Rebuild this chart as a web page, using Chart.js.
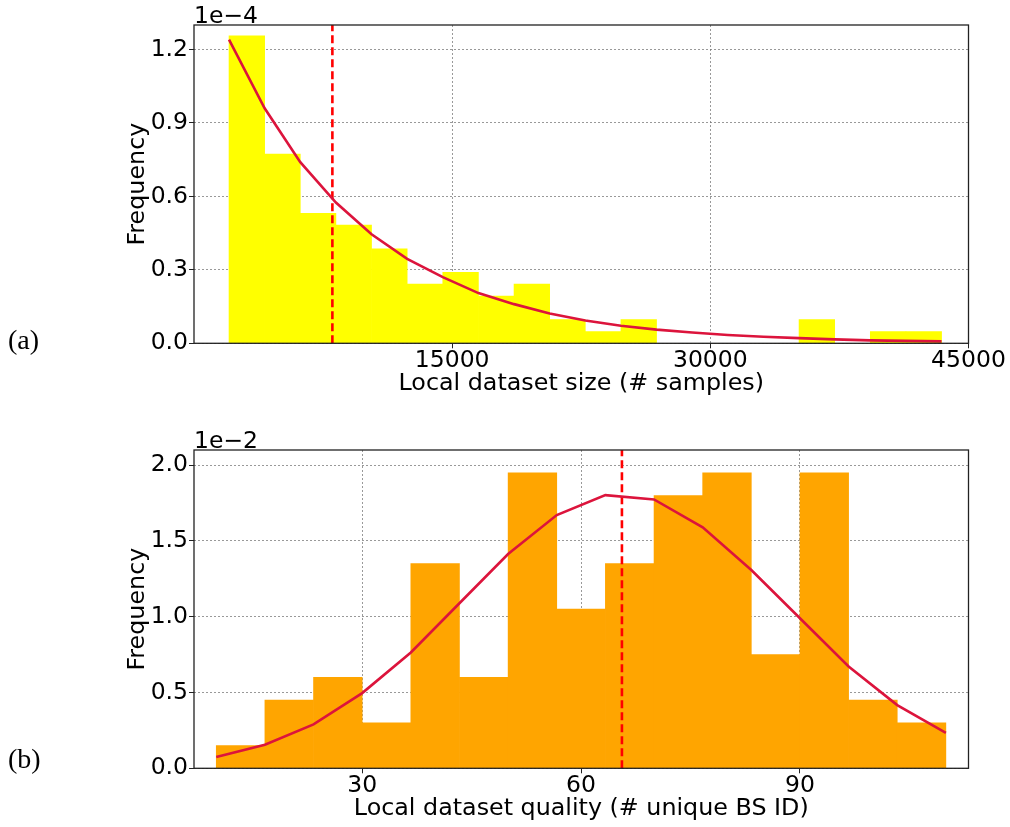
<!DOCTYPE html>
<html>
<head>
<meta charset="utf-8">
<script src="https://cdn.jsdelivr.net/npm/chart.js@4.4.0/dist/chart.umd.min.js"></script>
<style>
  body { margin: 0; background: #fff; }
  #wrap { position: relative; width: 1010px; height: 827px; }
  canvas { position: absolute; left: 0; }
  #cSize { top: 0; }
  #cQuality { top: 425px; }
  .tag { position: absolute; left: 8px; font-family: "Liberation Serif", serif; font-size: 28px; line-height: 28px; color: #000; }
</style>
</head>
<body>
<div id="wrap">
  <canvas id="cSize" width="1010" height="402"></canvas>
  <canvas id="cQuality" width="1010" height="402"></canvas>
  <div class="tag" style="top:326px">(a)</div>
  <div class="tag" style="top:745px">(b)</div>
</div>
<script>
// ==================== DATA ====================
// (a) local dataset size: histogram bin edges, density (x1e-4), fitted curve at edges
const sizeEdges = [2035, 4105, 6175, 8245, 10315, 12385, 14455, 16525, 18595, 20665, 22735,
                   24805, 26875, 28945, 31015, 33085, 35155, 37225, 39295, 41365, 43435];
const sizeFreq = [1.256, 0.773, 0.531, 0.483, 0.386, 0.242, 0.290, 0.193, 0.242, 0.097,
                  0.048, 0.097, 0, 0, 0, 0, 0.097, 0, 0.048, 0.048];
const sizeFit = [1.24, 0.96, 0.74, 0.575, 0.445, 0.345, 0.27, 0.205, 0.16, 0.122, 0.093,
                 0.072, 0.056, 0.044, 0.034, 0.027, 0.021, 0.016, 0.012, 0.01, 0.008];
const sizeMarker = 8040;
const sizeXTicks = [15000, 30000, 45000];
const sizeYTicks = [0, 0.3, 0.6, 0.9, 1.2];

// (b) local dataset quality: bin edges, density (x1e-2), fitted curve at edges
const qualityEdges = [10, 16.67, 23.33, 30, 36.67, 43.33, 50, 56.67, 63.33, 70, 76.67,
                      83.33, 90, 96.67, 103.33, 110];
const qualityFreq = [0.15, 0.45, 0.60, 0.30, 1.35, 0.60, 1.95, 1.05, 1.35, 1.80, 1.95,
                     0.75, 1.95, 0.45, 0.30];
const qualityFit = [0.075, 0.156, 0.29, 0.496, 0.764, 1.089, 1.414, 1.671, 1.802, 1.774,
                    1.59, 1.308, 0.99, 0.672, 0.417, 0.233];
const qualityMarker = 65.6;
const qualityXTicks = [30, 60, 90];
const qualityYTicks = [0, 0.5, 1.0, 1.5, 2.0];

// ==================== STYLE ====================
const FONT = 'DejaVu Sans';
const FS = 23.5;
const FS_TITLE = 23.8;
Chart.defaults.font.family = FONT;
Chart.defaults.color = '#000';

// black frame round the plot + matplotlib-like offset text ("1e−4")
const framePlugin = {
  id: 'frame',
  afterDraw(chart, args, opts) {
    const { ctx, chartArea: a } = chart;
    ctx.save();
    ctx.strokeStyle = '#222';
    ctx.lineWidth = 1.3;
    ctx.strokeRect(a.left, a.top, a.right - a.left, a.bottom - a.top);
    ctx.font = FS + 'px "' + FONT + '"';
    ctx.fillStyle = '#000';
    ctx.textBaseline = 'alphabetic';
    ctx.textAlign = 'left';
    ctx.fillText(opts.text, a.left, a.top - 2);
    ctx.restore();
  }
};

function makeHist(canvasId, cfg) {
  const bars = cfg.freq.map((v, i) => ({ x: (cfg.edges[i] + cfg.edges[i + 1]) / 2, y: v }));
  const curve = cfg.fit.map((v, i) => ({ x: cfg.edges[i], y: v }));
  const marker = [{ x: cfg.marker, y: 0 }, { x: cfg.marker, y: cfg.yMax }];

  const grid = {
    color: 'rgba(110,110,110,0.7)',
    lineWidth: 1,
    tickBorderDash: [],
    tickColor: '#222',
    tickLength: 5,
    offset: false
  };
  // in Chart.js v4 the dash of the grid lines lives under "border"
  const border = { display: false, dash: [2, 2] };

  return new Chart(document.getElementById(canvasId), {
    type: 'bar',
    data: {
      datasets: [
        { type: 'line', data: curve, borderColor: '#dc143c', borderWidth: 2.6,
          pointRadius: 0, tension: 0, fill: false, order: 0 },
        { type: 'line', data: marker, borderColor: '#ff0000', borderWidth: 2.6,
          borderDash: [8, 4], pointRadius: 0, fill: false, order: 1 },
        { type: 'bar', data: bars, backgroundColor: cfg.color, borderWidth: 0,
          barPercentage: 1, categoryPercentage: 1, order: 2 }
      ]
    },
    options: {
      responsive: false,
      animation: false,
      layout: { padding: { left: 124, right: 41.5, top: 25, bottom: 4 } },
      plugins: {
        legend: { display: false },
        tooltip: { enabled: false },
        frame: { text: cfg.offsetText }
      },
      scales: {
        x: {
          type: 'linear',
          min: cfg.xMin, max: cfg.xMax,
          offset: false,
          grid: grid,
          border: border,
          afterBuildTicks: s => { s.ticks = cfg.xTicks.map(v => ({ value: v })); },
          afterFit: s => { s.height = 54.7; },
          ticks: { font: { size: FS }, padding: -2, maxRotation: 0, autoSkip: false,
                   callback: v => String(v) },
          title: { display: true, text: cfg.xTitle, font: { size: FS_TITLE }, padding: 0 }
        },
        y: {
          min: 0, max: cfg.yMax,
          grid: grid,
          border: border,
          afterBuildTicks: s => { s.ticks = cfg.yTicks.map(v => ({ value: v })); },
          afterFit: s => { s.width = 70; },
          ticks: { font: { size: FS }, padding: 1, callback: v => v.toFixed(1) },
          title: { display: true, text: 'Frequency', font: { size: FS_TITLE }, padding: 0 }
        }
      }
    },
    plugins: [framePlugin]
  });
}

// ==================== CHARTS ====================
makeHist('cSize', {
  edges: sizeEdges, freq: sizeFreq, fit: sizeFit, marker: sizeMarker,
  xTicks: sizeXTicks, yTicks: sizeYTicks,
  xMin: 0, xMax: 45000, yMax: 1.3,
  color: '#ffff00', offsetText: '1e\u22124',
  xTitle: 'Local dataset size (# samples)'
});

makeHist('cQuality', {
  edges: qualityEdges, freq: qualityFreq, fit: qualityFit, marker: qualityMarker,
  xTicks: qualityXTicks, yTicks: qualityYTicks,
  xMin: 6.95, xMax: 113.1, yMax: 2.1,
  color: '#ffa500', offsetText: '1e\u22122',
  xTitle: 'Local dataset quality (# unique BS ID)'
});
</script>
</body>
</html>
